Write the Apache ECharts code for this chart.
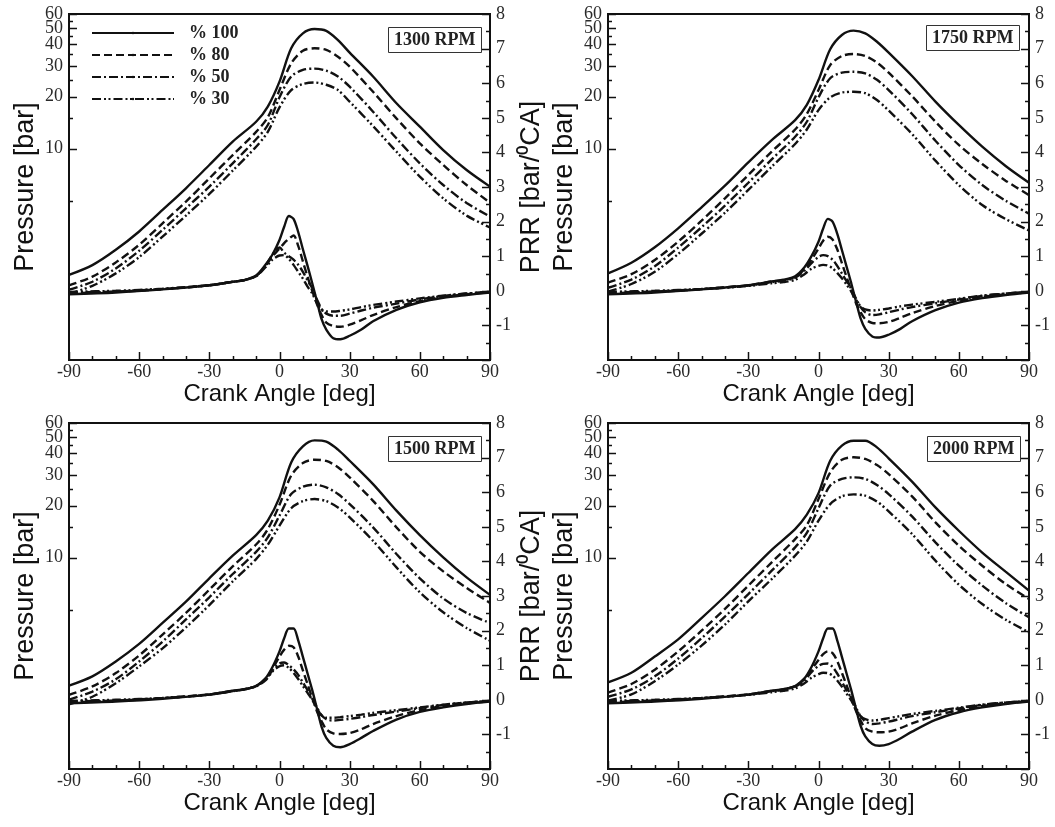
<!DOCTYPE html>
<html><head><meta charset="utf-8">
<script src="https://cdn.jsdelivr.net/npm/echarts@6/dist/echarts.min.js"></script>
<style>html,body{margin:0;padding:0;background:#fff}#c{width:1055px;height:827px}</style>
</head><body><div id="c"></div>
<script>
// ---- data ----
const anglesP = [-90,-80,-70,-60,-50,-40,-30,-20,-10,-5,0,5,10,15,20,25,30,40,50,60,70,80,90];
const anglesR = [-90,-70,-50,-30,-20,-15,-10,-6,-3,0,2,4,6,8,10,12,14,16,18,20,23,26,30,35,40,50,60,70,80,90];
const loads = ['% 100','% 80','% 50','% 30'];
const rpms = ['1300 RPM','1750 RPM','1500 RPM','2000 RPM'];
const pressureLabels = [10,20,30,40];
const pressureTopLabels = [50,60];
const pressureTicks = [10,20,30,40,50,60];
const pressureMinorTicks = [5,15,25,35,45,55];
const angleTicks = [-90,-60,-30,0,30,60,90];
const angleMinorTicks = [-80,-70,-50,-40,-20,-10,10,20,40,50,70,80];
const prrTicks = [-2,-1,0,1,2,3,4,5,6,7,8];
const prrMinorTicks = [-1.5,-0.5,0.5,1.5,2.5,3.5,4.5,5.5,6.5,7.5];

const p1300_100 = [1.86,2.12,2.60,3.32,4.42,5.90,8.04,10.97,14.3,17.5,24.4,38.0,46.4,49.1,47.9,42.4,35.9,26.1,18.3,13.4,9.81,7.52,6.03];
const p1300_80  = [1.62,1.82,2.20,2.78,3.70,4.94,6.73,9.18,12.5,15.2,21.8,31.1,36.8,38.0,37.2,34.0,29.8,21.3,14.96,10.73,8.04,6.16,4.87];
const p1300_50  = [1.53,1.70,2.03,2.57,3.39,4.52,6.03,8.22,11.32,13.69,19.79,26.1,28.5,29.0,28.2,26.1,22.8,16.35,11.47,8.22,6.16,4.85,4.05];
const p1300_30  = [1.45,1.61,1.90,2.36,3.10,4.10,5.47,7.46,10.26,12.5,17.32,21.8,23.6,24.1,23.4,21.8,18.68,13.5,9.60,6.89,5.16,4.1,3.5];

const p1750_100 = [1.90,2.19,2.69,3.46,4.58,6.11,8.33,11.2,14.6,17.9,24.9,37.5,45.4,48.1,46.4,41.5,35.9,26.3,18.7,13.7,10.26,7.94,6.35];
const p1750_80  = [1.68,1.88,2.27,2.90,3.83,5.16,7.04,9.60,12.9,15.85,21.8,30.4,34.3,35.2,34.3,31.4,27.5,20.1,14.3,10.5,8.15,6.53,5.39];
const p1750_50  = [1.57,1.75,2.09,2.68,3.51,4.68,6.35,8.67,11.72,14.3,19.79,25.5,27.5,27.8,27.2,25.0,21.8,15.85,11.1,8.04,6.16,5.00,4.21];
const p1750_30  = [1.49,1.65,1.94,2.46,3.22,4.26,5.77,7.86,10.64,12.9,16.7,19.79,21.1,21.3,20.9,19.1,16.6,12.15,8.52,6.16,4.72,3.92,3.36];

const p1500_100 = [1.82,2.06,2.51,3.17,4.19,5.56,7.59,10.26,13.5,16.35,22.3,35.5,44.0,47.6,46.8,42.1,36.3,26.6,18.7,13.5,10.04,7.69,6.09];
const p1500_80  = [1.61,1.80,2.15,2.72,3.59,4.79,6.53,8.90,11.9,14.6,20.2,29.8,35.2,36.8,36.2,33.3,29.1,21.3,14.96,10.8,8.33,6.68,5.47];
const p1500_50  = [1.51,1.68,1.98,2.51,3.27,4.39,5.90,8.04,10.8,13.1,17.5,23.3,25.7,26.4,25.5,23.3,20.4,14.96,10.5,7.59,5.81,4.79,4.19];
const p1500_30  = [1.42,1.57,1.88,2.35,2.99,3.95,5.32,7.29,9.81,11.88,15.3,19.3,21.2,21.8,21.2,19.5,17.1,12.5,8.78,6.30,4.83,3.92,3.31];

const p2000_100 = [1.90,2.16,2.68,3.37,4.47,5.98,8.15,11.1,14.6,17.7,23.6,36.3,44.4,47.4,47.4,43.4,37.5,27.5,19.5,14.3,10.7,8.3,6.45];
const p2000_80  = [1.66,1.86,2.25,2.87,3.78,5.05,6.89,9.39,12.8,15.4,21.8,31.1,36.8,38.0,37.2,34.3,30.4,22.6,16.0,11.72,8.98,7.04,5.77];
const p2000_50  = [1.57,1.73,2.06,2.61,3.42,4.56,6.16,8.40,11.47,13.9,19.3,26.1,28.5,29.1,28.5,26.3,23.3,17.3,12.25,8.98,6.89,5.47,4.52];
const p2000_30  = [1.49,1.62,1.93,2.41,3.10,4.10,5.59,7.52,10.26,12.4,16.35,20.4,22.6,23.2,22.8,21.1,18.5,13.7,9.60,6.98,5.39,4.38,3.70];

const r1300_100 = [-0.1,-0.05,0.04,0.16,0.26,0.31,0.44,0.75,1.05,1.47,1.85,2.16,2.08,1.70,1.20,0.72,0.22,-0.3,-0.82,-1.12,-1.37,-1.40,-1.30,-1.12,-0.88,-0.55,-0.33,-0.2,-0.12,-0.05];
const r1300_80  = [-0.07,-0.03,0.05,0.16,0.26,0.31,0.43,0.72,1.0,1.22,1.38,1.5,1.6,1.3,0.85,0.4,0.0,-0.38,-0.7,-0.92,-1.02,-1.04,-0.98,-0.85,-0.7,-0.47,-0.3,-0.18,-0.1,-0.04];
const r1300_50  = [-0.05,-0.02,0.05,0.16,0.26,0.31,0.43,0.72,1.05,1.25,1.1,1.0,0.9,0.75,0.55,0.3,0.08,-0.25,-0.52,-0.66,-0.72,-0.72,-0.66,-0.57,-0.49,-0.37,-0.25,-0.15,-0.08,-0.03];
const r1300_30  = [-0.03,0.0,0.06,0.16,0.26,0.31,0.42,0.68,0.9,1.02,1.03,0.92,0.75,0.55,0.35,0.12,-0.08,-0.35,-0.55,-0.6,-0.6,-0.58,-0.54,-0.47,-0.41,-0.31,-0.22,-0.14,-0.08,-0.03];

const r1750_100 = [-0.1,-0.05,0.04,0.16,0.27,0.32,0.42,0.68,1.0,1.42,1.8,2.08,2.0,1.65,1.18,0.7,0.22,-0.3,-0.8,-1.1,-1.32,-1.35,-1.27,-1.1,-0.88,-0.56,-0.34,-0.21,-0.12,-0.05];
const r1750_80  = [-0.07,-0.03,0.05,0.16,0.27,0.31,0.4,0.62,0.9,1.22,1.45,1.56,1.48,1.2,0.8,0.4,0.02,-0.35,-0.62,-0.82,-0.93,-0.94,-0.9,-0.78,-0.65,-0.44,-0.29,-0.18,-0.1,-0.04];
const r1750_50  = [-0.05,-0.02,0.05,0.15,0.25,0.29,0.38,0.58,0.8,0.98,1.03,1.0,0.9,0.72,0.5,0.28,0.06,-0.22,-0.47,-0.62,-0.7,-0.68,-0.62,-0.54,-0.47,-0.36,-0.25,-0.15,-0.08,-0.03];
const r1750_30  = [-0.03,0.0,0.05,0.14,0.22,0.25,0.32,0.48,0.64,0.72,0.75,0.73,0.65,0.52,0.36,0.18,-0.02,-0.25,-0.45,-0.54,-0.57,-0.55,-0.51,-0.45,-0.4,-0.32,-0.23,-0.14,-0.08,-0.03];

const r1500_100 = [-0.1,-0.05,0.03,0.15,0.26,0.31,0.4,0.62,0.95,1.4,1.78,2.06,2.06,1.72,1.24,0.76,0.28,-0.25,-0.78,-1.1,-1.33,-1.37,-1.28,-1.1,-0.9,-0.57,-0.35,-0.22,-0.12,-0.05];
const r1500_80  = [-0.07,-0.03,0.05,0.16,0.26,0.3,0.4,0.6,0.9,1.25,1.45,1.56,1.52,1.25,0.85,0.45,0.05,-0.33,-0.62,-0.85,-0.97,-0.99,-0.96,-0.85,-0.7,-0.47,-0.3,-0.18,-0.1,-0.04];
const r1500_50  = [-0.05,-0.02,0.05,0.15,0.25,0.3,0.4,0.58,0.85,1.05,1.08,1.0,0.88,0.72,0.5,0.28,0.05,-0.22,-0.45,-0.56,-0.6,-0.58,-0.55,-0.5,-0.44,-0.34,-0.24,-0.15,-0.08,-0.03];
const r1500_30  = [-0.03,0.0,0.05,0.15,0.25,0.3,0.39,0.56,0.82,0.97,1.0,0.92,0.78,0.6,0.4,0.2,0.0,-0.25,-0.45,-0.52,-0.52,-0.5,-0.47,-0.43,-0.38,-0.3,-0.22,-0.14,-0.08,-0.03];

const r2000_100 = [-0.1,-0.05,0.03,0.15,0.26,0.31,0.4,0.62,0.95,1.4,1.78,2.06,2.06,1.72,1.24,0.76,0.28,-0.25,-0.75,-1.06,-1.28,-1.33,-1.28,-1.12,-0.92,-0.58,-0.36,-0.22,-0.12,-0.05];
const r2000_80  = [-0.07,-0.03,0.05,0.16,0.26,0.3,0.4,0.6,0.88,1.15,1.32,1.4,1.35,1.12,0.78,0.42,0.05,-0.32,-0.6,-0.82,-0.92,-0.94,-0.92,-0.82,-0.68,-0.46,-0.3,-0.18,-0.1,-0.04];
const r2000_50  = [-0.05,-0.02,0.05,0.15,0.25,0.29,0.38,0.56,0.8,0.98,1.04,1.05,0.95,0.76,0.52,0.28,0.05,-0.22,-0.48,-0.62,-0.7,-0.68,-0.63,-0.55,-0.47,-0.36,-0.25,-0.15,-0.08,-0.03];
const r2000_30  = [-0.03,0.0,0.05,0.14,0.22,0.26,0.33,0.48,0.64,0.74,0.78,0.77,0.7,0.56,0.38,0.18,-0.02,-0.27,-0.47,-0.56,-0.6,-0.58,-0.53,-0.47,-0.41,-0.32,-0.23,-0.14,-0.08,-0.03];

const pressure = [
  [p1300_100,p1300_80,p1300_50,p1300_30],
  [p1750_100,p1750_80,p1750_50,p1750_30],
  [p1500_100,p1500_80,p1500_50,p1500_30],
  [p2000_100,p2000_80,p2000_50,p2000_30]
];
const prr = [
  [r1300_100,r1300_80,r1300_50,r1300_30],
  [r1750_100,r1750_80,r1750_50,r1750_30],
  [r1500_100,r1500_80,r1500_50,r1500_30],
  [r2000_100,r2000_80,r2000_50,r2000_30]
];

// ---- layout / style ----
const panels = [
  {left:69, top:14, rightName:true, box:{left:388, top:27}},
  {left:608, top:14, rightName:false, box:{left:926, top:25}},
  {left:69, top:423, rightName:true, box:{left:388, top:436}},
  {left:608, top:423, rightName:false, box:{left:927, top:436}}
];
const W = 421, H = 346;
const INK = '#111';
const serif = '"Liberation Serif","Times New Roman",serif';
const sans = '"Liberation Sans",Arial,sans-serif';
const dashes = ['solid', [8,4], [9,3,2,3], [9,3,2,2.5,2,3]];
const lbl = (extra) => Object.assign({fontFamily: serif, fontSize: 18, color: '#2a2a2a'}, extra);
const axl = () => ({show: true, onZero: false, lineStyle: {color: INK, width: 2}});

const grid = [], xAxis = [], yAxis = [], series = [], title = [];
panels.forEach((p, i) => {
  grid.push({left: p.left, top: p.top, width: W, height: H, show: true,
    borderColor: INK, borderWidth: 2});
  xAxis.push({type: 'value', gridIndex: i, min: -90, max: 90, interval: 30,
    axisLine: axl(), axisTick: {show: false}, minorTick: {show: false},
    splitLine: {show: false},
    axisLabel: lbl({margin: 3}),
    name: 'Crank Angle [deg]', nameLocation: 'middle', nameGap: 22,
    nameTextStyle: {fontFamily: sans, fontSize: 24, color: INK}});
  yAxis.push({type: 'log', gridIndex: i, position: 'left', min: 0.6, max: 60.001,
    axisLine: axl(), axisTick: {show: false},
    axisLabel: lbl({margin: 6, customValues: pressureLabels}),
    splitLine: {show: false},
    name: 'Pressure [bar]', nameLocation: 'middle', nameRotate: 90, nameGap: 30,
    nameTextStyle: {fontFamily: sans, fontSize: 27, color: INK}});
  yAxis.push({type: 'value', gridIndex: i, position: 'right', min: -2, max: 8, interval: 1,
    axisLine: axl(), axisTick: {show: false}, minorTick: {show: false},
    splitLine: {show: false},
    axisLabel: lbl({margin: 6, formatter: v => (v === -2 ? '' : String(v))}),
    name: p.rightName ? 'PRR [bar/\u2070CA]' : '', nameLocation: 'middle', nameRotate: 90, nameGap: 28,
    nameTextStyle: {fontFamily: sans, fontSize: 27, color: INK}});
  title.push({text: rpms[i], left: p.box.left, top: p.box.top,
    borderColor: '#333', borderWidth: 1, padding: [4, 6],
    textStyle: {fontFamily: serif, fontWeight: 'bold', fontSize: 18, color: '#222'}});
  loads.forEach((name, k) => {
    series.push({type: 'line', name, xAxisIndex: i, yAxisIndex: i * 2,
      data: anglesP.map((a, j) => [a, pressure[i][k][j]]),
      symbol: 'none', smooth: 0.3, lineStyle: {color: INK, width: 2.4, type: dashes[k]},
      itemStyle: {color: INK}, silent: true});
    series.push({type: 'line', name, xAxisIndex: i, yAxisIndex: i * 2 + 1,
      data: anglesR.map((a, j) => [a, prr[i][k][j]]),
      symbol: 'none', smooth: 0.3, lineStyle: {color: INK, width: 2.4, type: dashes[k]},
      itemStyle: {color: INK}, silent: true});
  });
});

const chart = echarts.init(document.getElementById('c'), null, {renderer: 'canvas'});
chart.setOption({
  animation: false,
  backgroundColor: '#fff',
  title, grid, xAxis, yAxis, series,
  legend: {data: loads, left: 91, top: 24, padding: 0, orient: 'vertical', itemWidth: 82, itemHeight: 3,
    itemGap: 4, selectedMode: false,
    textStyle: {fontFamily: serif, fontWeight: 'bold', fontSize: 18, color: '#222', padding: [0, 0, 0, 10]}}
});

// inward tick marks and the two crowded top labels, placed through the axes' own scales
const graphic = [];
const tick = (x1, y1, x2, y2) => graphic.push({type: 'line', silent: true, z: 50,
  shape: {x1, y1, x2, y2}, style: {stroke: INK, lineWidth: 1.5}});
panels.forEach((p, i) => {
  const L = p.left, R = p.left + W, B = p.top + H;
  const px = v => Math.round(chart.convertToPixel({xAxisIndex: i}, v)) + 0.5;
  const pyP = v => Math.round(chart.convertToPixel({yAxisIndex: i * 2}, v)) + 0.5;
  const pyR = v => Math.round(chart.convertToPixel({yAxisIndex: i * 2 + 1}, v)) + 0.5;
  angleTicks.forEach(v => { const x = px(v); tick(x, B, x, B - 8); });
  angleMinorTicks.forEach(v => { const x = px(v); tick(x, B, x, B - 4); });
  pressureTicks.forEach(v => { const y = pyP(v); tick(L, y, L + 8, y); });
  pressureMinorTicks.forEach(v => { const y = pyP(v); tick(L, y, L + 4, y); });
  prrTicks.forEach(v => { const y = pyR(v); tick(R, y, R - 8, y); });
  prrMinorTicks.forEach(v => { const y = pyR(v); tick(R, y, R - 4, y); });
  pressureTopLabels.forEach(v => graphic.push({type: 'text', silent: true, z: 50, x: L - 6, y: pyP(v),
    style: {text: String(v), font: '18px ' + serif, fill: '#2a2a2a',
      align: 'right', verticalAlign: 'middle'}}));
});
chart.setOption({graphic});
</script></body></html>
